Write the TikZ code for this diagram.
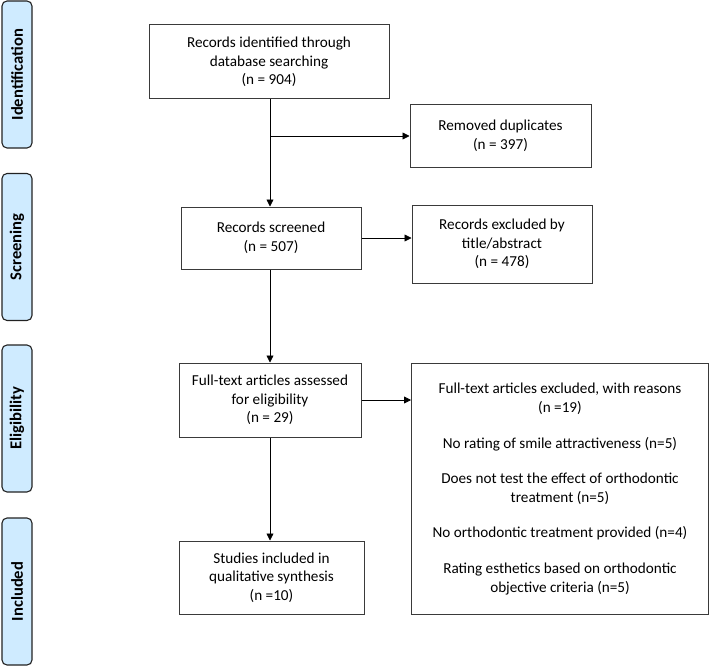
\documentclass[tikz,border=0pt]{standalone}
\usepackage{fontspec}
\setmainfont{Carlito}
\usetikzlibrary{arrows.meta,positioning,calc}
\definecolor{phasefill}{HTML}{CFEBFF}
\definecolor{phaseline}{HTML}{222222}
\definecolor{boxline}{HTML}{3A3A3A}

\begin{document}
\begin{tikzpicture}[
  x=1pt, y=-1pt,
  font=\fontsize{15.2}{18.6}\selectfont,
  phase/.style = {draw=phaseline, line width=1.1pt, fill=phasefill, rounded corners=5pt,
                  minimum width=147pt, minimum height=30pt, rotate=90,
                  font=\fontsize{16.6}{18}\selectfont\bfseries},
  stage/.style = {draw=boxline, line width=1pt, fill=white, align=center, inner sep=2pt},
  ln/.style    = {-{Triangle[length=7pt,width=7pt]}, draw=black, line width=0.8pt},
]
\useasboundingbox (0,0) rectangle (709,666);

% --- the four phases down the left side ----------------------------------------------------------
\node[phase] (pid)  at (17,74.5)  {Identification};
\node[phase] (pscr) at (17,247)   {Screening};
\node[phase] (pel)  at (17,418.5) {Eligibility};
\node[phase] (pinc) at (17,591.5) {Included};

% --- main column ---------------------------------------------------------------------------------
\coordinate (spine) at (270,0);
\node[stage, minimum width=240pt, minimum height=74pt] (ident) at (269,62)
  {Records identified through\\database searching\\(n = 904)};
\node[stage, minimum width=180pt, minimum height=62pt] (scr) at (271,238)
  {Records screened\\(n = 507)};
\node[stage, minimum width=182pt, minimum height=74pt] (full) at (270,400)
  {Full-text articles assessed\\for eligibility\\(n = 29)};
\node[stage, minimum width=185pt, minimum height=73pt] (incl) at (271.5,577.5)
  {Studies included in\\qualitative synthesis\\(n =10)};

% --- exclusions on the right ---------------------------------------------------------------------
\node[stage, minimum width=181pt, minimum height=62pt] (dup) at (500.5,136)
  {Removed duplicates\\(n = 397)};
\node[stage, minimum width=180pt, minimum height=78pt, right=50pt of scr, yshift=-6pt] (exta)
  {Records excluded by\\title/abstract\\(n = 478)};
\node[stage, minimum width=297pt, minimum height=251pt, anchor=north west] (extb) at (411,363)
  {Full-text articles excluded, with reasons\\(n =19)\\[17pt]
   No rating of smile attractiveness (n=5)\\[17pt]
   Does not test the effect of orthodontic\\treatment (n=5)\\[17pt]
   No orthodontic treatment provided (n=4)\\[17pt]
   Rating esthetics based on orthodontic\\objective criteria (n=5)};

% --- flow ----------------------------------------------------------------------------------------
\draw[ln] (ident.south -| spine) -- (scr.north -| spine);
\draw[ln] (spine |- dup.west) -- (dup.west);
\draw[ln] (scr.south -| spine) -- (full.north -| spine);
\draw[ln] (full.south -| spine) -- (incl.north -| spine);
\draw[ln] (scr.east) -- (scr.east -| exta.west);
\draw[ln] (full.east) -- (full.east -| extb.west);

\end{tikzpicture}
\end{document}
